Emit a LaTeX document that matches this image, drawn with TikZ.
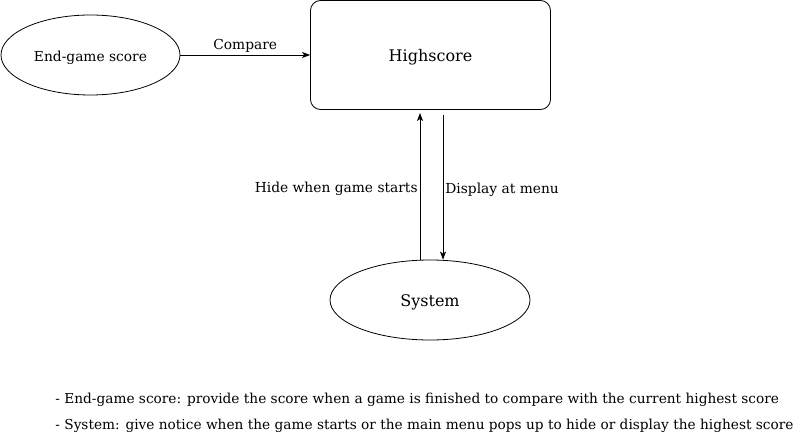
\documentclass[tikz,border=0pt]{standalone}
\usepackage{fontspec}
\setmainfont{DejaVu Serif}
\usetikzlibrary{shapes.geometric,arrows.meta}

\begin{document}
\begin{tikzpicture}[x=1pt,y=-1pt,line width=0.8pt,font=\fontsize{13.8}{16}\selectfont,text height=13.5pt,text depth=1pt,>={Stealth[length=8pt,width=6pt,inset=2pt]}]
% Styles
\tikzset{entity/.style={ellipse,draw,inner sep=0pt}}
\tikzset{process/.style={rectangle,draw,rounded corners=10pt,inner sep=0pt}}
\tikzset{note text/.style={anchor=west,inner sep=0pt,font=\fontsize{13.7}{16}\selectfont}}

\useasboundingbox (0,0) rectangle (803,433);

% draw the nodes
\node[entity,minimum width=179pt,minimum height=80pt] (endgame) at (90.5,55) {End-game score};
\node[process,minimum width=240pt,minimum height=109pt,font=\fontsize{16}{18}\selectfont] (highscore) at (430.5,55) {Highscore};
\node[entity,minimum width=200pt,minimum height=80pt,font=\fontsize{16}{18}\selectfont] (system) at (430,300) {System};

% arrows
\coordinate (hidetip) at (420,113);
\coordinate (showstart) at (443,115);

\draw[->] (endgame.east) -- (endgame.east -| highscore.west) node[midway,above,inner sep=4pt] (compare) {Compare};
\draw[->] (system.north -| hidetip) -- (hidetip) node[midway,left,inner sep=2pt] (hide) {Hide when game starts};
\draw[->] (showstart) -- (system.north -| showstart) node[midway,right,inner sep=2pt] (display) {Display at menu};

% notes
\node[note text] (note1) at (55,397) {- End-game score: provide the score when a game is finished to compare with the current highest score};
\node[note text] (note2) at (55,423) {- System: give notice when the game starts or the main menu pops up to hide or display the highest score};

\end{tikzpicture}
\end{document}
